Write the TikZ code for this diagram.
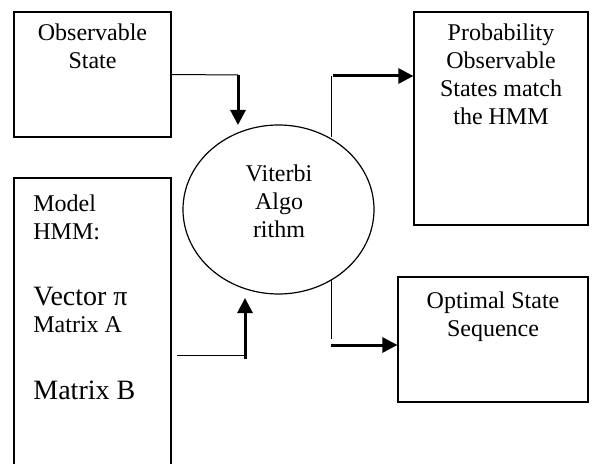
\documentclass[tikz,border=0pt]{standalone}
\usepackage{fontspec}
\setmainfont{Liberation Serif}
\usetikzlibrary{arrows.meta,shapes.geometric,positioning}

\begin{document}
\begin{tikzpicture}[x=0.5pt, y=-0.5pt,
  box/.style={draw, line width=0.6pt, inner sep=0pt},
  txt/.style={align=center, inner sep=0pt, font=\fontsize{12}{14}\selectfont},
  flow/.style={line width=1.5pt, -{Triangle[length=7.5pt,width=7.5pt]}},
  link/.style={line width=0.5pt}]

\useasboundingbox (0,0) rectangle (593,464);

% boxes and the algorithm
\node[box, minimum width=78.5pt, minimum height=62.5pt] (obs) at (92.5,74.5) {};
\node[box, minimum width=78.5pt, minimum height=155pt] (model) at (92.5,333) {};
\node[box, minimum width=87pt, minimum height=106.5pt] (prob) at (501,118.5) {};
\node[box, minimum width=95pt, minimum height=62.5pt] (opt) at (493,339.5) {};
\node[box, ellipse, minimum width=95.5pt, minimum height=84.5pt] (vit) at (278.5,209.5) {};

% texts
\node[txt, anchor=north] (obstxt) at (92.5,23) {Observable\\State};
\node[txt, anchor=north] (probtxt) at (501,23) {Probability\\Observable\\States match\\the HMM};
\node[txt, anchor=north] (opttxt) at (493,291) {Optimal State\\Sequence};
\node[txt] (vittxt) at (279,201) {Viterbi\\Algo\\rithm};

% model parameters, left aligned
\foreach \t/\y/\s [count=\i] in {Model/203/12, HMM:/232/12, Vector π/297/14, Matrix A/325/12, Matrix B/390/14}
  {
  \node[txt, anchor=west, font=\fontsize{\s}{\s}\selectfont] (m\i) at (33,\y) {\t};
  }

% connectors
\coordinate (a1) at (238,75);
\coordinate (a2) at (238,125);
\draw[link] (obs.east) -- (a1);
\draw[flow] (a1) -- (a2);

\coordinate (b0) at (177,355);
\coordinate (b1) at (245,355);
\coordinate (b2) at (245,298);
\draw[link] (b0) -- (b1);
\draw[flow] ([yshift=-2pt]b1) -- (b2);

\coordinate (c0) at (331,137);
\coordinate (c1) at (331,76);
\draw[link] (c0) -- (c1);
\draw[flow] ([xshift=1pt]c1) -- (prob.west |- c1);

\coordinate (d0) at (331,279);
\coordinate (d1) at (331,339);
\coordinate (d2) at (331,345);
\draw[link] (d0) -- (d1);
\draw[flow] (d2) -- (opt.west |- d2);

\end{tikzpicture}
\end{document}
